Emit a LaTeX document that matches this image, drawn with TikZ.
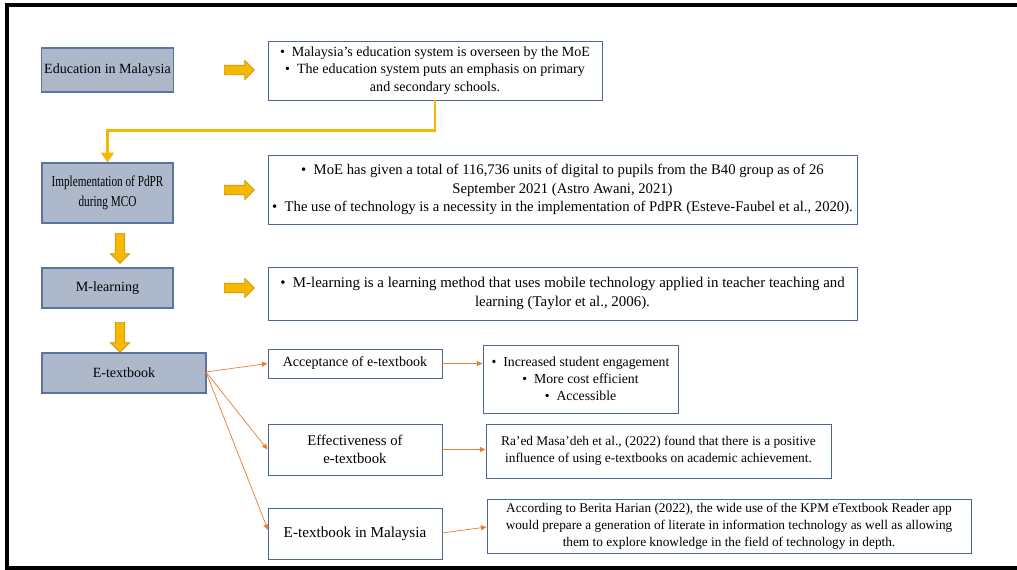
\documentclass[tikz,border=0pt]{standalone}
\usepackage{fontspec}
\setmainfont{Liberation Serif}
\newfontfamily\narrowserif[FakeStretch=0.74]{Liberation Serif}
\usetikzlibrary{arrows.meta,shapes.arrows}

\definecolor{boxfill}{HTML}{ADB9CB}
\definecolor{boxline}{HTML}{5B73A0}
\definecolor{txtline}{HTML}{4D6699}
\definecolor{arrfill}{HTML}{F6B800}
\definecolor{arrline}{HTML}{C9930A}
\definecolor{linkorange}{HTML}{ED7D31}

\tikzset{
  topic/.style={draw=boxline, fill=boxfill, line width=0.8pt, align=center, inner sep=2pt},
  info/.style={draw=txtline, fill=white, line width=0.7pt, align=center, inner sep=2pt},
  sz/.style 2 args={minimum width=#1*0.025cm, minimum height=#2*0.025cm},
  fs/.style 2 args={font=\fontsize{#1}{#2}\selectfont},
  rarrow/.style={single arrow, draw=arrline, fill=arrfill, line width=0.5pt,
    inner xsep=0pt, inner ysep=0.11cm, single arrow head extend=0.12cm,
    minimum height=0.75cm},
  darrow/.style={rarrow, rotate=-90},
  yline/.style={draw=arrfill, line width=2pt, -{Triangle[length=7pt,width=9pt]}},
  link/.style={draw=linkorange, line width=0.5pt, -{Triangle[length=4pt,width=3.5pt]}}
}

\newcommand{\bul}{\textbullet\enspace}

\begin{document}
\begin{tikzpicture}[x=0.025cm, y=-0.025cm, font=\fontsize{10}{12.6}\selectfont]
        \useasboundingbox (0,0) rectangle (1017,570);

        % frame
        \draw[line width=2.2pt] (1017,5) -- (7,5) -- (7,568) -- (1017,568);

        % left column
        \node[topic, sz={131}{60}, font=\narrowserif\fontsize{10.8}{14}\selectfont] (impl) at (107.5,193)
          {Implementation of PdPR\\during MCO};
        \node[topic, sz={131}{44}] (edu) at (107.5,70) {Education in Malaysia};
        \node[topic, sz={131}{40}] (mlearn) at (107.5,288) {M-learning};
        \node[topic, sz={164}{40}] (etb) at (124,373) {E-textbook};

        % descriptions
        \node[info, sz={334}{59}] (moe) at (435,70.5)
          {\bul Malaysia's education system is overseen by the MoE\\
           \bul The education system puts an emphasis on primary\\
           and secondary schools.};
        \node[info, sz={589}{69}, inner xsep=1pt, fs={10.45}{13.2}] (pdpr) at (562.5,189.5)
          {\bul MoE has given a total of 116,736 units of digital to pupils from the B40 group as of 26\\
           September 2021 (Astro Awani, 2021)\\
           \bul The use of technology is a necessity in the implementation of PdPR (Esteve-Faubel et al., 2020).};
        \node[info, sz={589}{53}, fs={10.6}{13.2}] (mdef) at (562.5,293.5)
          {\bul M-learning is a learning method that uses mobile technology applied in teacher teaching and\\
           learning (Taylor et al., 2006).};

        % e-textbook branches
        \node[info, sz={174}{29}] (accept) at (355,363.5) {Acceptance of e-textbook};
        \node[info, sz={174}{51}, fs={10.5}{13}] (effect) at (355,449.5) {Effectiveness of\\e-textbook};
        \node[info, sz={174}{51}, fs={10.8}{13}] (etbmy) at (355,533.5) {E-textbook in Malaysia};

        \node[info, sz={195}{68}, fs={9.8}{12.2}] (gains) at (580.5,379)
          {\bul Increased student engagement\\
           \bul More cost efficient\\
           \bul Accessible};
        \node[info, sz={345}{54}, fs={9.5}{12.4}] (raed) at (658.5,451)
          {Ra’ed Masa’deh et al., (2022) found that there is a positive\\
           influence of using e-textbooks on academic achievement.};
        \node[info, sz={484}{54}, fs={9.45}{12.2}] (harian) at (729,526)
          {According to Berita Harian (2022), the wide use of the KPM eTextbook Reader app\\
           would prepare a generation of literate in information technology as well as allowing\\
           them to explore knowledge in the field of technology in depth.};

        % yellow block arrows
        \node[rarrow] (r1) at (237,70) {};
        \node[rarrow] (r2) at (237,190) {};
        \node[rarrow] (r3) at (237,288) {};
        \node[darrow] (d1) at (120,246) {};
        \node[darrow] (d2) at (120,335) {};

        % elbow link
        \draw[yline] (moe.south) -- ++(0,30) -| (impl.north);

        % orange links
        \coordinate (etbout) at (206,372);
        \draw[link] (etbout) -- (accept.west);
        \draw[link] (etbout) -- (effect.west);
        \draw[link] (etbout) -- (268,530);
        \draw[link] (accept.east) -- (gains.west |- accept.east);
        \draw[link] (effect.east) -- (raed.west |- effect.east);
        \draw[link] (442,533) -- (harian.west |- 0,527);

    \end{tikzpicture}
\end{document}
